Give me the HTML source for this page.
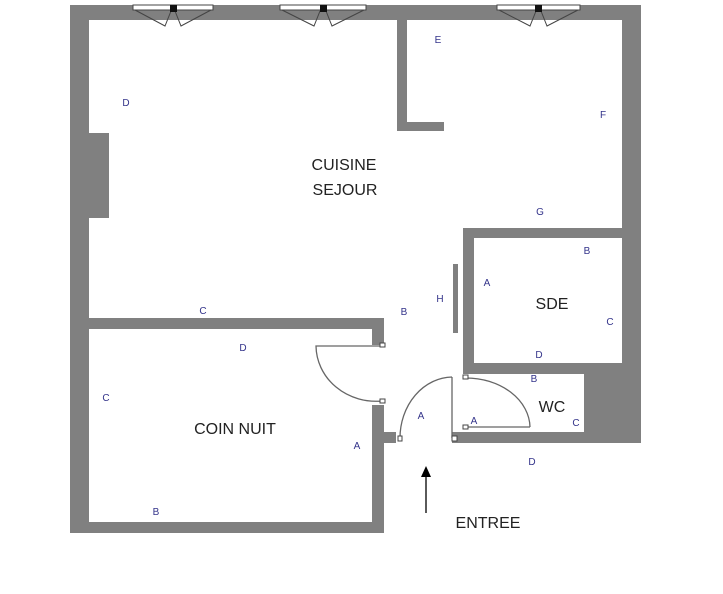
<!DOCTYPE html>
<html><head><meta charset="utf-8"><style>
html,body{margin:0;padding:0;background:#fff;width:723px;height:594px;overflow:hidden}
svg text{font-family:"Liberation Sans",sans-serif}
</style></head><body>
<svg width="723" height="594" viewBox="0 0 723 594" xmlns="http://www.w3.org/2000/svg">
<g fill="#808080">
<!-- outer walls -->
<rect x="70" y="5" width="571" height="15"/>
<rect x="70" y="5" width="19" height="528"/>
<rect x="622" y="5" width="19" height="438"/>
<rect x="85" y="133" width="24" height="85"/>
<!-- inner wall top -->
<rect x="397" y="20" width="10" height="111"/>
<rect x="397" y="122" width="47" height="9"/>
<!-- coin nuit -->
<rect x="70" y="318" width="314" height="11"/>
<rect x="372" y="318" width="12" height="27"/>
<rect x="372" y="405" width="12" height="128"/>
<rect x="70" y="522" width="314" height="11"/>
<rect x="384" y="432" width="12" height="11"/>
<!-- SDE -->
<rect x="463" y="228" width="178" height="10"/>
<rect x="463" y="228" width="11" height="146"/>
<rect x="463" y="363" width="178" height="11"/>
<rect x="584" y="363" width="57" height="80"/>
<rect x="452" y="432" width="189" height="11"/>
<!-- panel H -->
<rect x="453" y="264" width="5" height="69"/>
</g>
<!-- windows -->
<g fill="#fff" stroke="#444" stroke-width="1">
<rect x="133" y="5" width="80" height="5"/>
<rect x="280" y="5" width="86" height="5"/>
<rect x="497" y="5" width="83" height="5"/>
</g>
<g stroke="#444" stroke-width="1" fill="none">
<path d="M135 10 L165 26 L171 11 M211 10 L181 26 L175 11"/>
<path d="M282 10 L314 26 L320 11 M364 10 L332 26 L326 11"/>
<path d="M499 10 L530 26 L536 11 M578 10 L547 26 L541 11"/>
</g>
<g fill="#111"><rect x="170" y="5" width="7" height="7"/><rect x="320" y="5" width="7" height="7"/><rect x="535" y="5" width="7" height="7"/></g>
<!-- doors -->
<g stroke="#666" stroke-width="1.3" fill="none">
<path d="M382 346 L316 346 A60 56 0 0 0 382 401"/>
<path d="M452 377 L452 438 M452 377 A53 61 0 0 0 400 438"/>
<path d="M466 427 L530 427 M466 378 A64 50 0 0 1 530 427"/>
</g>
<g fill="#fff" stroke="#444" stroke-width="1">
<rect x="380" y="343" width="5" height="4"/><rect x="380" y="399" width="5" height="4"/>
<rect x="398" y="436" width="4" height="5"/><rect x="452" y="436" width="5" height="5"/>
<rect x="463" y="375" width="5" height="4"/><rect x="463" y="425" width="5" height="4"/>
</g>
<!-- arrow -->
<line x1="426" y1="513" x2="426" y2="476" stroke="#000" stroke-width="1.3"/>
<path d="M421 477 L426 466 L431 477 Z" fill="#000"/>
<!-- labels -->
<g font-size="16" fill="#222">
<text x="344" y="170" text-anchor="middle">CUISINE</text>
<text x="345" y="195" text-anchor="middle">SEJOUR</text>
<text x="552" y="309" text-anchor="middle">SDE</text>
<text x="552" y="412" text-anchor="middle">WC</text>
<text x="235" y="434" text-anchor="middle">COIN NUIT</text>
<text x="488" y="528" text-anchor="middle">ENTREE</text>
</g>
<g font-size="10" fill="#33338a" text-anchor="middle">
<text x="438" y="43">E</text>
<text x="126" y="106">D</text>
<text x="603" y="118">F</text>
<text x="540" y="215">G</text>
<text x="587" y="254">B</text>
<text x="487" y="286">A</text>
<text x="440" y="302">H</text>
<text x="404" y="315">B</text>
<text x="203" y="314">C</text>
<text x="610" y="325">C</text>
<text x="243" y="351">D</text>
<text x="539" y="358">D</text>
<text x="534" y="382">B</text>
<text x="106" y="401">C</text>
<text x="421" y="419">A</text>
<text x="474" y="424">A</text>
<text x="576" y="426">C</text>
<text x="357" y="449">A</text>
<text x="532" y="465">D</text>
<text x="156" y="515">B</text>
</g>
</svg>
</body></html>
